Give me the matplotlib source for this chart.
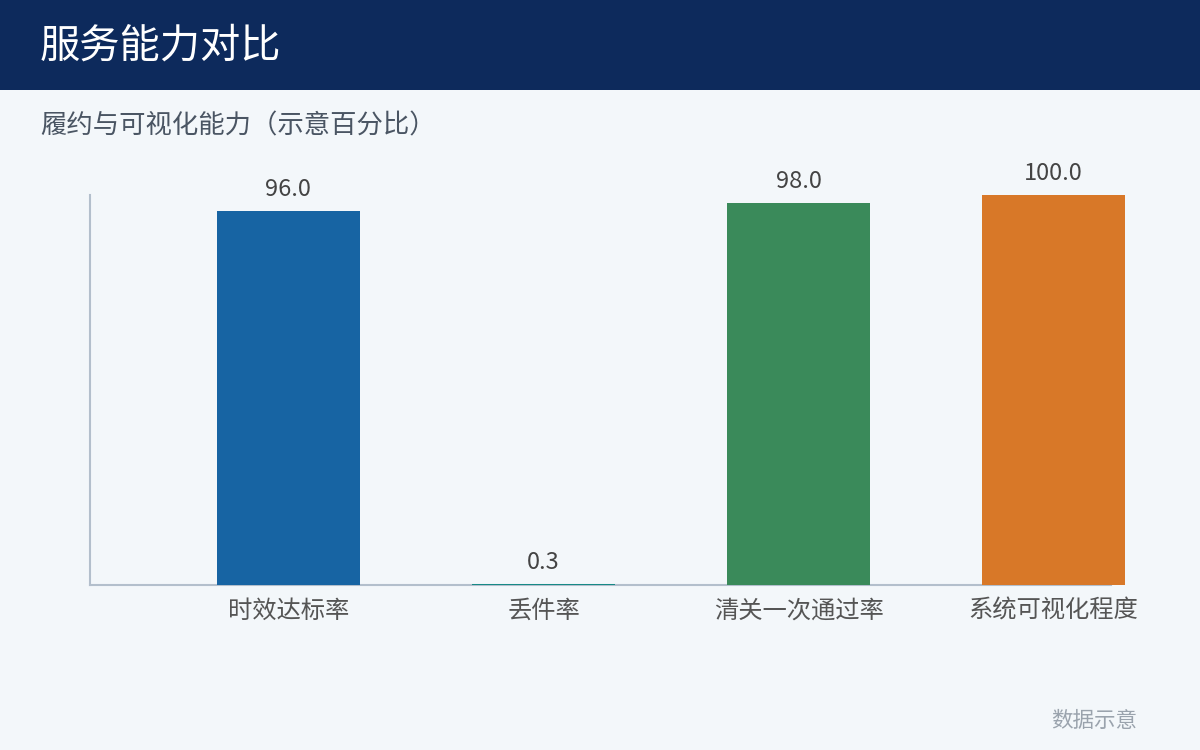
import matplotlib
matplotlib.use('Agg')
import matplotlib.pyplot as plt
from matplotlib.patches import Rectangle

plt.rcParams['font.family'] = ['Noto Sans CJK SC', 'DejaVu Sans']

# data
categories = ['时效达标率', '丢件率', '清关一次通过率', '系统可视化程度']
values = [96.0, 0.3, 98.0, 100.0]
colors = ['#1764a3', '#178a86', '#3a8a5a', '#d87828']

title = '服务能力对比'
subtitle = '履约与可视化能力（示意百分比）'
footer = '数据示意'

BG = '#f3f7fa'
NAVY = '#0d2a5c'
SPINE = '#b3bfcc'

fig = plt.figure(figsize=(12, 7.5), dpi=100, facecolor=BG)

# header band
fig.patches.append(Rectangle((0, 1 - 90 / 750), 1, 90 / 750, transform=fig.transFigure,
                             facecolor=NAVY, edgecolor='none', zorder=0))
fig.text(40 / 1200, 1 - 46 / 750, title, color='white', fontsize=29, va='center', ha='left')
fig.text(40 / 1200, 1 - 126 / 750, subtitle, color='#4a5563', fontsize=19, va='center', ha='left')
fig.text(1137 / 1200, 1 - 721 / 750, footer, color='#9aa3ad', fontsize=15.5, va='center', ha='right')

ax = fig.add_axes([90 / 1200, 1 - 585 / 750, 1021 / 1200, 390 / 750])
ax.set_facecolor(BG)

x = list(range(len(categories)))
bars = ax.bar(x, values, width=0.56, color=colors, clip_on=False, zorder=3)
ax.set_xlim(-0.778, 3.225)
ax.set_ylim(0, 100)

for b, v in zip(bars, values):
    ax.annotate(f'{v:.1f}', (b.get_x() + b.get_width() / 2, v), xytext=(0, 7),
                textcoords='offset points', ha='center', va='bottom',
                fontsize=17, color='#444444')

ax.set_xticks(x)
ax.set_xticklabels(categories, fontsize=17.5, color='#555555')
ax.set_yticks([])
ax.tick_params(axis='x', length=0, pad=9)

for s in ['top', 'right']:
    ax.spines[s].set_visible(False)
for s in ['left', 'bottom']:
    ax.spines[s].set_color(SPINE)
    ax.spines[s].set_linewidth(1.5)

fig.savefig('out.png', dpi=100, facecolor=BG)
